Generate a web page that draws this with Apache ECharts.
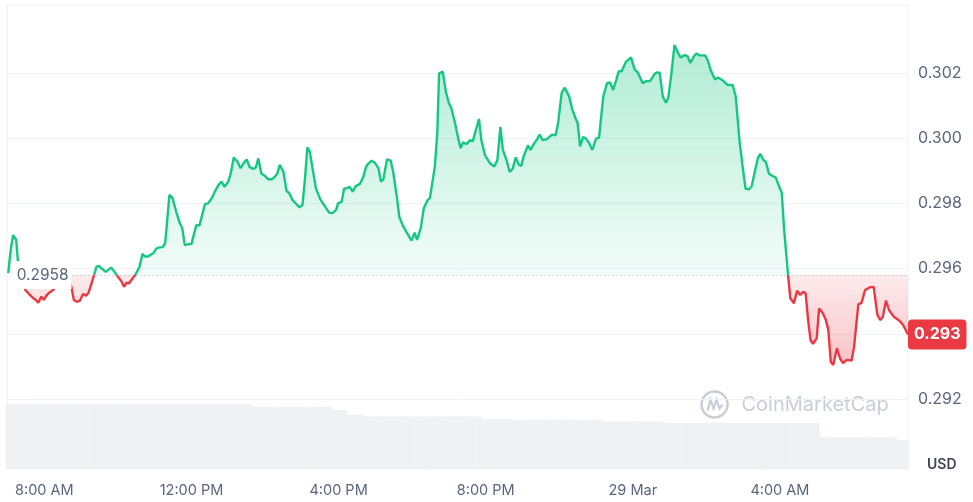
<!DOCTYPE html>
<html><head><meta charset="utf-8">
<script src="https://cdn.jsdelivr.net/npm/echarts@6/dist/echarts.min.js"></script>
<style>html,body{margin:0;padding:0;background:#fff}#c{width:973px;height:502px}</style>
</head><body><div id="c"></div>
<script>
// ---- data ----
const startTime = Date.UTC(2025, 2, 28, 7, 1); // first sample, 28 Mar 07:01
// minutes after startTime for each sample
const minutes = [
  0,4,8,13,16,22,28,34,41,45,
  49,54,58,63,67,73,79,86,92,99,
  103,107,112,117,122,127,131,136,140,144,
  148,152,159,168,171,179,185,189,193,197,
  201,207,214,219,223,228,237,242,247,252,
  256,258,263,268,274,280,284,288,294,299,
  302,307,312,315,321,326,332,337,343,348,
  353,359,363,368,374,379,384,389,394,400,
  404,408,413,419,424,430,435,439,443,449,
  454,458,464,469,475,480,484,488,492,497,
  502,509,517,524,529,535,538,544,548,552,
  557,562,567,574,579,584,587,593,598,604,
  608,612,618,624,628,634,638,644,651,658,
  663,667,673,678,684,688,696,700,703,709,
  714,719,723,729,734,738,742,748,753,758,
  768,772,778,786,793,798,803,807,813,818,
  823,828,833,837,841,848,852,858,863,867,
  872,879,887,893,897,903,908,915,920,926,
  929,933,938,943,948,953,959,964,968,971,
  977,982,987,992,996,1001,1008,1016,1018,1022,
  1027,1035,1041,1047,1055,1059,1063,1068,1073,1077,
  1082,1087,1093,1097,1104,1108,1113,1119,1123,1128,
  1137,1142,1146,1153,1158,1166,1174,1182,1187,1193,
  1198,1203,1209,1213,1218,1223,1227,1232,1236,1241,
  1247,1252,1258,1262,1266,1272,1276,1282,1287,1292,
  1297,1301,1305,1309,1313,1319,1323,1329,1334,1338,
  1342,1346,1352,1357,1362,1368,1376,1380,1387,1392,
  1398,1406,1412,1418,1423,1427,1432,1437,1445,1454,
  1460,1468
];
const prices = [
  0.29586,0.29657,0.29703,0.29688,0.29620,0.29565,0.29534,0.29522,0.29509,0.29504,
  0.29495,0.29514,0.29504,0.29519,0.29526,0.29534,0.29547,0.29556,0.29553,0.29565,
  0.29544,0.29504,0.29498,0.29502,0.29522,0.29517,0.29526,0.29555,0.29580,0.29606,
  0.29608,0.29601,0.29590,0.29603,0.29596,0.29575,0.29560,0.29544,0.29557,0.29555,
  0.29565,0.29580,0.29604,0.29645,0.29637,0.29637,0.29648,0.29662,0.29665,0.29666,
  0.29678,0.29718,0.29826,0.29816,0.29775,0.29739,0.29724,0.29672,0.29675,0.29675,
  0.29698,0.29734,0.29732,0.29754,0.29798,0.29800,0.29816,0.29836,0.29856,0.29867,
  0.29851,0.29867,0.29892,0.29941,0.29928,0.29908,0.29923,0.29935,0.29911,0.29906,
  0.29910,0.29938,0.29892,0.29884,0.29874,0.29874,0.29882,0.29892,0.29918,0.29897,
  0.29838,0.29833,0.29810,0.29800,0.29788,0.29795,0.29872,0.29972,0.29959,0.29902,
  0.29846,0.29813,0.29790,0.29771,0.29770,0.29780,0.29800,0.29805,0.29846,0.29846,
  0.29851,0.29836,0.29853,0.29860,0.29880,0.29913,0.29921,0.29931,0.29925,0.29908,
  0.29867,0.29874,0.29935,0.29931,0.29897,0.29821,0.29759,0.29731,0.29708,0.29686,
  0.29710,0.29688,0.29724,0.29785,0.29810,0.29816,0.29913,0.30015,0.30199,0.30204,
  0.30143,0.30107,0.30092,0.30046,0.30001,0.29969,0.29987,0.29982,0.29994,0.29991,
  0.30059,0.29994,0.29947,0.29923,0.29913,0.29932,0.30035,0.29964,0.29933,0.29897,
  0.29906,0.29941,0.29919,0.29915,0.29945,0.29978,0.29964,0.29984,0.29997,0.30011,
  0.29994,0.29997,0.30011,0.30009,0.30044,0.30140,0.30155,0.30129,0.30090,0.30059,
  0.30047,0.29975,0.30004,0.29998,0.29984,0.29964,0.29999,0.30002,0.30077,0.30129,
  0.30169,0.30171,0.30148,0.30179,0.30205,0.30206,0.30235,0.30248,0.30250,0.30211,
  0.30202,0.30169,0.30175,0.30175,0.30198,0.30202,0.30200,0.30127,0.30109,0.30125,
  0.30199,0.30286,0.30261,0.30248,0.30255,0.30252,0.30231,0.30252,0.30260,0.30254,
  0.30254,0.30235,0.30209,0.30180,0.30186,0.30177,0.30163,0.30163,0.30127,0.29994,
  0.29915,0.29845,0.29843,0.29853,0.29897,0.29938,0.29952,0.29933,0.29928,0.29892,
  0.29884,0.29880,0.29851,0.29833,0.29718,0.29586,0.29509,0.29494,0.29532,0.29519,
  0.29529,0.29524,0.29442,0.29381,0.29369,0.29386,0.29478,0.29463,0.29442,0.29412,
  0.29314,0.29304,0.29356,0.29325,0.29310,0.29320,0.29318,0.29360,0.29491,0.29494,
  0.29534,0.29543,0.29544,0.29458,0.29442,0.29452,0.29502,0.29473,0.29452,0.29440,
  0.29427,0.29398
];
// 24h volume (relative units) at each sample
const volumes = [
  140,140,140,140,140,140,140,140,140,140,
  140,140,140,140,140,140,140,140,140,140,
  140,140,140,140,140,140,140,140,140,140,
  140,140,140,140,140,140,140,140,140,140,
  140,140,140,140,140,140,140,140,140,140,
  140,140,140,140,140,140,140,140,140,140,
  140,140,140,140,140,140,140,140,140,140,
  140,140,140,140,140,140,140,140,140,134,
  134,134,134,134,134,134,134,134,134,134,
  134,134,134,134,134,134,134,134,134,134,
  134,134,134,134,127,127,127,127,127,117,
  117,117,117,117,113,113,113,113,113,113,
  113,113,113,113,113,113,113,113,113,113,
  113,113,113,113,113,113,113,113,113,113,
  113,113,113,113,113,113,113,113,113,113,
  113,108,108,108,108,108,108,108,108,108,
  106,106,106,106,106,106,106,106,106,106,
  106,106,106,106,106,106,106,106,106,106,
  106,106,106,106,106,106,106,106,102,102,
  102,102,102,102,102,102,102,102,102,102,
  102,102,102,102,102,102,102,102,99,99,
  99,99,99,99,99,99,99,99,99,99,
  99,99,99,99,99,99,99,99,99,99,
  99,99,99,99,99,99,99,99,99,99,
  99,99,99,99,99,99,99,99,99,99,
  99,99,99,99,99,99,68,68,68,68,
  68,68,68,68,68,68,68,68,68,68,
  68,68,68,68,68,68,68,68,68,62,
  62,62
];
const baseline = 0.2958;          // opening price reference
const baselineLineFrom = Date.UTC(2025, 2, 28, 8, 46);
const yTickValues = [0.292, 0.294, 0.296, 0.298, 0.300, 0.302];
const xTickTimes = [
  Date.UTC(2025, 2, 28, 8), Date.UTC(2025, 2, 28, 12), Date.UTC(2025, 2, 28, 16),
  Date.UTC(2025, 2, 28, 20), Date.UTC(2025, 2, 29, 0), Date.UTC(2025, 2, 29, 4)
];

// ---- chart ----
const GREEN = '#16c784', RED = '#ea3943', TXT = '#58667e';
const FONT = 'Inter, Roboto, "Noto Sans", sans-serif';
const times = minutes.map(m => startTime + m * 60000);
const priceData = times.map((t, i) => [t, prices[i]]);
const volData = times.map((t, i) => [t, volumes[i]]);
const xMin = startTime - 2 * 60000;
const xMax = times[times.length - 1];
const lastPrice = prices[prices.length - 1];
const yMin = yTickValues[0], yMax = yTickValues[yTickValues.length - 1];

function fmtTime(v) {
  const d = new Date(v);
  const h = d.getUTCHours(), m = d.getUTCMinutes();
  if (h === 0 && m === 0) return d.getUTCDate() + ' Mar';
  return (h % 12 || 12) + ':' + String(m).padStart(2, '0') + ' ' + (h < 12 ? 'AM' : 'PM');
}

const chart = echarts.init(document.getElementById('c'), null, { renderer: 'canvas' });

function buildOption(lineColor, areaColor) {
  return {
    animation: false,
    textStyle: { fontFamily: FONT },
    grid: [
      { left: 7, right: 65, top: 73, bottom: 103 },
      { left: 7, right: 65, top: 5, bottom: 33, show: true, borderColor: '#eceef2', borderWidth: 1 }
    ],
    xAxis: [
      { type: 'value', gridIndex: 0, min: xMin, max: xMax, show: false },
      {
        type: 'value', gridIndex: 1, min: xMin, max: xMax,
        axisLine: { show: false }, axisTick: { show: false }, splitLine: { show: false },
        axisLabel: {
          customValues: xTickTimes, formatter: fmtTime, color: TXT,
          fontSize: 14.5, margin: 14, fontFamily: FONT
        }
      }
    ],
    yAxis: [
      {
        type: 'value', gridIndex: 0, position: 'right',
        min: yMin, max: yMax, interval: 0.002,
        axisLine: { show: false }, axisTick: { show: false },
        splitLine: { lineStyle: { color: '#eff2f5', width: 1 } },
        axisLabel: { formatter: v => v.toFixed(3), margin: 10, color: TXT, fontSize: 16, fontFamily: FONT },
        name: 'USD', nameLocation: 'start', nameGap: 59,
        nameTextStyle: { align: 'left', padding: [0, 0, 0, 19], color: '#3b4350', fontSize: 14, fontWeight: 600, fontFamily: FONT }
      },
      { type: 'value', gridIndex: 1, min: 0, max: 1000, show: false },
      {
        // current-price tag on the price scale
        type: 'value', gridIndex: 0, position: 'right', min: yMin, max: yMax,
        axisLine: { show: false }, axisTick: { show: false }, splitLine: { show: false },
        axisLabel: {
          customValues: [lastPrice], margin: 0,
          formatter: v => (Math.floor(v * 1000) / 1000).toFixed(3),
          color: '#ffffff', fontSize: 16, fontWeight: 'bold', fontFamily: FONT,
          backgroundColor: RED, padding: [6, 6, 6, 6], borderRadius: 4, lineHeight: 18
        }
      }
    ],
    graphic: [{
      type: 'group', left: 699, top: 389, silent: true,
      children: [
        { type: 'circle', shape: { cx: 14, cy: 14, r: 13 }, style: { fill: 'none', stroke: '#c8ced8', lineWidth: 2.5 } },
        { type: 'polyline', shape: { points: [[7, 20], [10, 9], [13, 18], [16, 9], [19, 18], [22, 14]] }, style: { fill: 'none', stroke: '#c8ced8', lineWidth: 2.2 } },
        { type: 'text', x: 41, y: 14, style: { text: 'CoinMarketCap', fill: '#c8ced8', fontSize: 20, fontFamily: FONT, verticalAlign: 'middle' } }
      ]
    }],
    series: [
      {
        type: 'bar', xAxisIndex: 1, yAxisIndex: 1, data: volData, barWidth: 6,
        itemStyle: { color: '#eff1f4' }, silent: true
      },
      {
        type: 'line', xAxisIndex: 0, yAxisIndex: 0, data: priceData, clip: false,
        symbol: 'none', smooth: false,
        lineStyle: { width: 2.4, color: lineColor },
        areaStyle: { origin: baseline, color: areaColor, opacity: 1 },
        markLine: {
          silent: true, symbol: ['none', 'none'], animation: false,
          data: [
            [
              {
                coord: [baselineLineFrom, baseline],
                lineStyle: { color: '#a6afbd', type: [1, 3], width: 1 },
                label: {
                  show: true, position: 'start', distance: 1,
                  formatter: String(baseline), color: TXT, fontSize: 15.5, fontFamily: FONT,
                  backgroundColor: '#ffffff', padding: [6, 3, 6, 5], lineHeight: 16
                }
              },
              { coord: [xMax, baseline] }
            ]
          ]
        }
      }
    ]
  };
}

chart.setOption(buildOption(GREEN, 'rgba(22,199,132,0.2)'));
const yb = chart.convertToPixel({ yAxisIndex: 0 }, baseline);
const yTop = chart.convertToPixel({ yAxisIndex: 0 }, 0.303);
const yBot = chart.convertToPixel({ yAxisIndex: 0 }, 0.293);
const ob = (yb - yTop) / (yBot - yTop);
const lineGrad = new echarts.graphic.LinearGradient(0, yTop, 0, yBot, [
  { offset: 0, color: GREEN }, { offset: ob, color: GREEN },
  { offset: ob, color: RED }, { offset: 1, color: RED }
], true);
const areaGrad = new echarts.graphic.LinearGradient(0, yTop, 0, yBot, [
  { offset: 0, color: 'rgba(22,199,132,0.34)' },
  { offset: ob, color: 'rgba(22,199,132,0.05)' },
  { offset: ob, color: 'rgba(234,57,67,0.10)' },
  { offset: 1, color: 'rgba(234,57,67,0.30)' }
], true);
chart.setOption(buildOption(lineGrad, areaGrad));
</script>
</body></html>
